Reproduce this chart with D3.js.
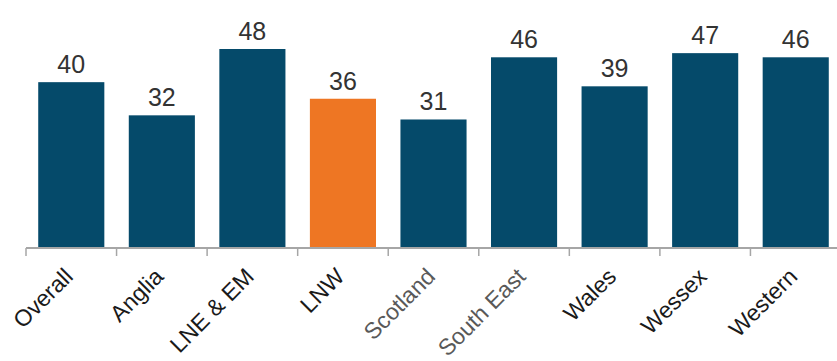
<!DOCTYPE html>
<meta charset="utf-8">
<style>
body { margin: 0; background: #fff; }
svg { display: block; font-family: 'Liberation Sans', Arial, sans-serif; }
</style>
<body>
<svg width="837" height="361"></svg>
<script src="https://cdn.jsdelivr.net/npm/d3@7"></script>
<script>

var categories = ["Overall", "Anglia", "LNE & EM", "LNW", "Scotland", "South East", "Wales", "Wessex", "Western"];
var values = [40, 32, 48, 36, 31, 46, 39, 47, 46];
// which labels are drawn in grey on the axis
var greyLabels = ["Scotland", "South East"];
var highlight = "LNW";

var svg = d3.select("svg");

var baseline = 248;

var x = d3.scaleBand()
    .domain(categories)
    .range([26, 841])
    .paddingInner(0.27)
    .paddingOuter(0.135);

var y = d3.scaleLinear()
    .domain([0, 48])
    .range([baseline, 49]);

var g = svg.append("g");

g.selectAll("rect.bar")
    .data(categories)
    .enter().append("rect")
    .attr("class", "bar")
    .attr("x", function(d) { return x(d); })
    .attr("width", x.bandwidth())
    .attr("y", function(d, i) { return y(values[i]); })
    .attr("height", function(d, i) { return baseline - y(values[i]); })
    .attr("fill", function(d) { return d == highlight ? "#ee7623" : "#054a6a"; });

g.selectAll("text.value")
    .data(categories)
    .enter().append("text")
    .attr("class", "value")
    .attr("x", function(d) { return x(d) + x.bandwidth() / 2; })
    .attr("y", function(d, i) { return y(values[i]) - 9; })
    .attr("text-anchor", "middle")
    .style("font-size", "25px")
    .attr("fill", "#333")
    .text(function(d, i) { return values[i]; });

// axis line and ticks at the band edges
var x0 = x.range()[0];
var edges = d3.range(categories.length + 1).map(function(i) { return x0 + i * x.step(); });

g.append("line")
    .attr("x1", x0).attr("x2", 837)
    .attr("y1", baseline).attr("y2", baseline)
    .attr("stroke", "#a6a6a6")
    .attr("stroke-width", 2);

g.selectAll("line.tick")
    .data(edges)
    .enter().append("line")
    .attr("class", "tick")
    .attr("x1", function(d) { return d; })
    .attr("x2", function(d) { return d; })
    .attr("y1", baseline)
    .attr("y2", baseline + 8)
    .attr("stroke", "#a6a6a6")
    .attr("stroke-width", 1.5);

g.selectAll("text.cat")
    .data(categories)
    .enter().append("text")
    .attr("class", "cat")
    .attr("transform", function(d) {
        return "translate(" + (x(d) + x.bandwidth() / 2 + 3) + "," + (baseline + 30) + ") rotate(-45)";
    })
    .attr("text-anchor", "end")
    .style("font-size", "23px")
    .attr("fill", function(d) { return greyLabels.indexOf(d) >= 0 ? "#595959" : "#1a1a1a"; })
    .text(function(d) { return d; });

</script>
</body>
